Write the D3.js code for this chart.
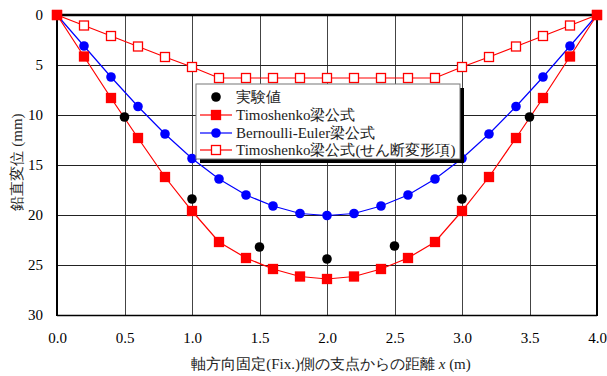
<!DOCTYPE html>
<html><head><meta charset="utf-8">
<script src="https://cdn.jsdelivr.net/npm/d3@7"></script>
<style>body{margin:0;background:#fff}svg{display:block}</style>
</head><body>
<script>
const xs = [0,0.2,0.4,0.6,0.8,1.0,1.2,1.4,1.6,1.8,2.0,2.2,2.4,2.6,2.8,3.0,3.2,3.4,3.6,3.8,4.0];
const timoshenko = [0,4.15,8.3,12.3,16.2,19.6,22.7,24.3,25.4,26.15,26.4,26.15,25.4,24.3,22.7,19.6,16.2,12.3,8.3,4.15,0];
const bernoulli = [0,3.1,6.2,9.15,11.9,14.35,16.4,18.0,19.1,19.85,20.05,19.85,19.1,18.0,16.4,14.35,11.9,9.15,6.2,3.1,0];
const shear = [0,1.05,2.1,3.15,4.2,5.2,6.3,6.3,6.3,6.3,6.3,6.3,6.3,6.3,6.3,5.2,4.2,3.15,2.1,1.05,0];
const expX = [0.5,1.0,1.5,2.0,2.5,3.0,3.5];
const expY = [10.2,18.4,23.2,24.4,23.1,18.4,10.2];
const xTicks = [0,0.5,1.0,1.5,2.0,2.5,3.0,3.5,4.0];
const yTicks = [0,5,10,15,20,25,30];
const legendLabels = ["実験値","Timoshenko梁公式","Bernoulli-Euler梁公式","Timoshenko梁公式(せん断変形項)"];

const W=607,H=376;
const L=57,R=597,T=15,B=315;
const serif = "Liberation Serif";
const svg=d3.select("body").append("svg").attr("width",W).attr("height",H);
const x=d3.scaleLinear().domain([0,4]).range([L,R]);
const y=d3.scaleLinear().domain([0,30]).range([T,B]);

// grid
const g=svg.append("g");
g.selectAll(".vg").data(xTicks.slice(1,-1)).join("line")
 .attr("x1",d=>Math.round(x(d))+0.5).attr("x2",d=>Math.round(x(d))+0.5)
 .attr("y1",T).attr("y2",B).attr("stroke","#444").attr("stroke-width",1);
g.selectAll(".hg").data(yTicks.slice(1,-1)).join("line")
 .attr("y1",d=>Math.round(y(d))+0.5).attr("y2",d=>Math.round(y(d))+0.5)
 .attr("x1",L).attr("x2",R).attr("stroke","#222").attr("stroke-width",1);
// frame
svg.append("line").attr("x1",L).attr("x2",R).attr("y1",T).attr("y2",T).attr("stroke","#000").attr("stroke-width",2.5);
svg.append("line").attr("x1",L).attr("x2",R).attr("y1",B+0.5).attr("y2",B+0.5).attr("stroke","#000").attr("stroke-width",1.5);
svg.append("line").attr("x1",L).attr("x2",L).attr("y1",T).attr("y2",B+1).attr("stroke","#000").attr("stroke-width",2);
svg.append("line").attr("x1",R).attr("x2",R).attr("y1",T).attr("y2",B+1).attr("stroke","#000").attr("stroke-width",2);

const yAxis=svg.append("g").attr("transform",`translate(${L-10},0)`).call(d3.axisLeft(y).tickValues(yTicks).tickSize(0).tickFormat(d3.format("d")));
yAxis.attr("font-family",serif).attr("font-size",15);
yAxis.select(".domain").remove();
yAxis.selectAll("text").attr("font-family",serif).attr("font-size",15).attr("fill","#000").attr("dx","-1");
const xAxis=svg.append("g").attr("transform",`translate(0,${B+14})`).call(d3.axisBottom(x).tickValues(xTicks).tickSize(0).tickFormat(d3.format(".1f")));
xAxis.attr("font-family",serif).attr("font-size",15);
xAxis.select(".domain").remove();
xAxis.selectAll("text").attr("font-family",serif).attr("font-size",15).attr("fill","#000");

svg.append("text").attr("transform","translate(22,162) rotate(-90)").attr("text-anchor","middle")
 .attr("font-family",serif).attr("font-size",15).attr("fill","#222").text("鉛直変位 (mm)");
const xt=svg.append("text").attr("x",331).attr("y",369).attr("text-anchor","middle")
 .attr("font-family",serif).attr("font-size",15).attr("fill","#222");
xt.append("tspan").text("軸方向固定(Fix.)側の支点からの距離 ");
xt.append("tspan").attr("font-style","italic").text("x");
xt.append("tspan").text(" (m)");

const line=d3.line().x(d=>x(d[0])).y(d=>y(d[1]));
function series(vals,color,marker,fill){
  const pts=xs.map((v,i)=>[v,vals[i]]);
  svg.append("path").datum(pts).attr("d",line).attr("fill","none").attr("stroke",color).attr("stroke-width",1.2);
  if(marker==="sq"){
    svg.selectAll(null).data(pts).join("rect").attr("x",d=>x(d[0])-4.5).attr("y",d=>y(d[1])-4.5)
     .attr("width",9).attr("height",9).attr("fill",fill).attr("stroke",color).attr("stroke-width",1.3);
  } else {
    svg.selectAll(null).data(pts).join("circle").attr("cx",d=>x(d[0])).attr("cy",d=>y(d[1])).attr("r",4.8).attr("fill",color);
  }
}
series(shear,"#ff0000","sq","#fff");
series(bernoulli,"#0000ff","ci");
series(timoshenko,"#ff0000","sq","#ff0000");
svg.selectAll(null).data(expX.map((v,i)=>[v,expY[i]])).join("circle")
 .attr("cx",d=>x(d[0])).attr("cy",d=>y(d[1])).attr("r",4.8).attr("fill","#000");

// legend
const lx=196,ly=84,lw=264,lh=75;
svg.append("rect").attr("x",lx+4).attr("y",ly+4).attr("width",lw).attr("height",lh).attr("fill","#000");
svg.append("rect").attr("x",lx).attr("y",ly).attr("width",lw).attr("height",lh).attr("fill","#fff").attr("stroke","#777").attr("stroke-width",1);
const rows=[97,115,133,150];
const lg=svg.append("g");
legendLabels.forEach((t,i)=>{
  const cy=rows[i];
  if(i===0){
    lg.append("circle").attr("cx",216).attr("cy",cy).attr("r",4.8).attr("fill","#000");
  } else {
    const c=i===2?"#0000ff":"#ff0000";
    lg.append("line").attr("x1",200).attr("x2",232).attr("y1",cy).attr("y2",cy).attr("stroke",c).attr("stroke-width",1.2);
    if(i===2) lg.append("circle").attr("cx",216).attr("cy",cy).attr("r",4.8).attr("fill",c);
    else lg.append("rect").attr("x",211.5).attr("y",cy-4.5).attr("width",9).attr("height",9)
      .attr("fill",i===1?c:"#fff").attr("stroke",c).attr("stroke-width",1.3);
  }
  lg.append("text").attr("x",236).attr("y",cy+5).attr("font-family",serif).attr("font-size",15).attr("fill","#222").text(t);
});
</script>
</body></html>
